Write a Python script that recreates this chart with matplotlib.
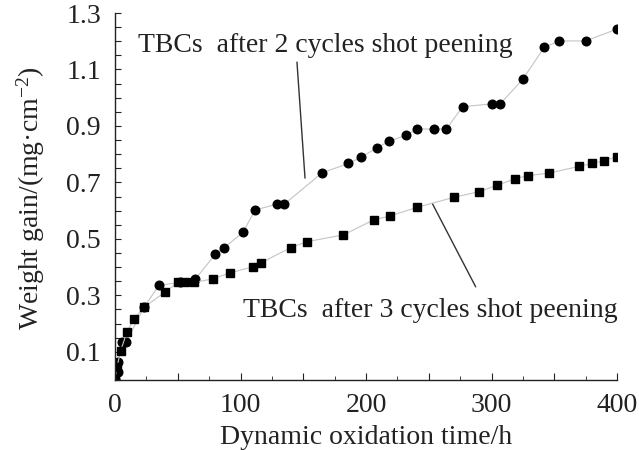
import numpy as np
import matplotlib
matplotlib.use("Agg")
import matplotlib.pyplot as plt
from matplotlib.ticker import FixedLocator, FuncFormatter

# Weight gain of TBCs during dynamic oxidation
time_2cycles = [0, 2, 2.5, 5.5, 9, 23, 35, 52, 64, 80, 87, 102, 111.5, 129, 135,
                165, 186, 196, 209, 218, 232, 241, 254, 264, 277, 300, 307, 325,
                342, 354, 375, 400]
gain_2cycles = [0.005, 0.03, 0.065, 0.135, 0.135, 0.257, 0.335, 0.346, 0.357,
                0.446, 0.469, 0.523, 0.602, 0.623, 0.623, 0.734, 0.767, 0.789,
                0.823, 0.845, 0.867, 0.889, 0.889, 0.889, 0.968, 0.978, 0.978,
                1.066, 1.178, 1.201, 1.201, 1.243]

time_3cycles = [0, 1.5, 4.5, 9.5, 15, 23, 40, 50, 56, 63, 78, 92, 110, 116, 140,
                153, 182, 206, 219, 241, 270, 290, 304, 319, 329, 346, 370, 380,
                390, 400]
gain_3cycles = [0.005, 0.045, 0.103, 0.171, 0.215, 0.257, 0.312, 0.346, 0.346,
                0.346, 0.358, 0.38, 0.401, 0.414, 0.469, 0.49, 0.514, 0.567,
                0.581, 0.612, 0.647, 0.667, 0.689, 0.713, 0.724, 0.733, 0.757,
                0.767, 0.777, 0.791]

label_2cycles = "TBCs  after 2 cycles shot peening"
label_3cycles = "TBCs  after 3 cycles shot peening"
x_tick_labels = [0, 100, 200, 300, 400]
y_tick_labels = [0.1, 0.3, 0.5, 0.7, 0.9, 1.1, 1.3]

plt.rcParams["font.family"] = ["Liberation Serif", "DejaVu Serif"]
plt.rcParams["mathtext.fontset"] = "custom"
plt.rcParams["mathtext.rm"] = "Liberation Serif"
plt.rcParams["mathtext.it"] = "Liberation Serif:italic"

FS = 20
INK = "#222222"

fig = plt.figure(figsize=(6.39, 4.5), dpi=100)
ax = fig.add_axes([115 / 639, 1 - 380 / 450, 502 / 639, 367 / 450])

line_kw = dict(color="#c4c4c4", lw=0.8, mec="black", mfc="black")
ax.plot(time_2cycles, gain_2cycles, marker="o", ms=6.2, **line_kw)
ax.plot(time_3cycles, gain_3cycles, marker="s", ms=5.2, **line_kw)

ax.set_xlim(0, 400)
ax.set_ylim(0, 1.3)

for side in ("top", "right"):
    ax.spines[side].set_visible(False)
for side in ("left", "bottom"):
    ax.spines[side].set_linewidth(1.0)
    ax.spines[side].set_color(INK)

ax.xaxis.set_major_locator(FixedLocator(np.arange(0, 401, 50)))
ax.xaxis.set_minor_locator(FixedLocator(np.arange(25, 400, 50)))
ax.xaxis.set_major_formatter(FuncFormatter(
    lambda v, p: f"{v:.0f}" if round(v) in x_tick_labels else ""))
ax.yaxis.set_major_locator(FixedLocator(np.round(np.arange(0, 1.301, 0.05), 2)))
ax.yaxis.set_major_formatter(FuncFormatter(
    lambda v, p: f"{v:.1f}" if any(abs(v - t) < 1e-6 for t in y_tick_labels) else ""))

ax.tick_params(axis="both", which="both", direction="in", colors=INK,
               labelcolor=INK, labelsize=FS)
ax.tick_params(axis="x", which="major", length=5, pad=9)
ax.tick_params(axis="x", which="minor", length=3)
ax.tick_params(axis="y", which="major", length=4, pad=10)

fig.text(366 / 639, 1 - 437 / 450, "Dynamic oxidation time/h", fontsize=FS,
         color=INK, ha="center", va="center")
fig.text(31 / 639, 1 - 198 / 450, "Weight gain/(mg·cm$^{-2}$)", fontsize=FS,
         color=INK, ha="center", va="center", rotation=90)

ax.annotate(label_2cycles, xy=(151.4, 0.715), xytext=(18.3, 1.162),
            fontsize=FS, color=INK, ha="left", va="baseline",
            annotation_clip=False)
ax.annotate("", xy=(151.4, 0.715), xytext=(145, 1.126),
            arrowprops=dict(arrowstyle="-", color="#333333", lw=1.0,
                            shrinkA=0, shrinkB=0))
ax.annotate(label_3cycles, xy=(287.4, 0.33), xytext=(102, 0.223),
            fontsize=FS, color=INK, ha="left", va="baseline",
            annotation_clip=False)
ax.annotate("", xy=(253.1, 0.623), xytext=(287.4, 0.33),
            arrowprops=dict(arrowstyle="-", color="#333333", lw=1.0,
                            shrinkA=0, shrinkB=0))

fig.savefig("out.png", dpi=100)
